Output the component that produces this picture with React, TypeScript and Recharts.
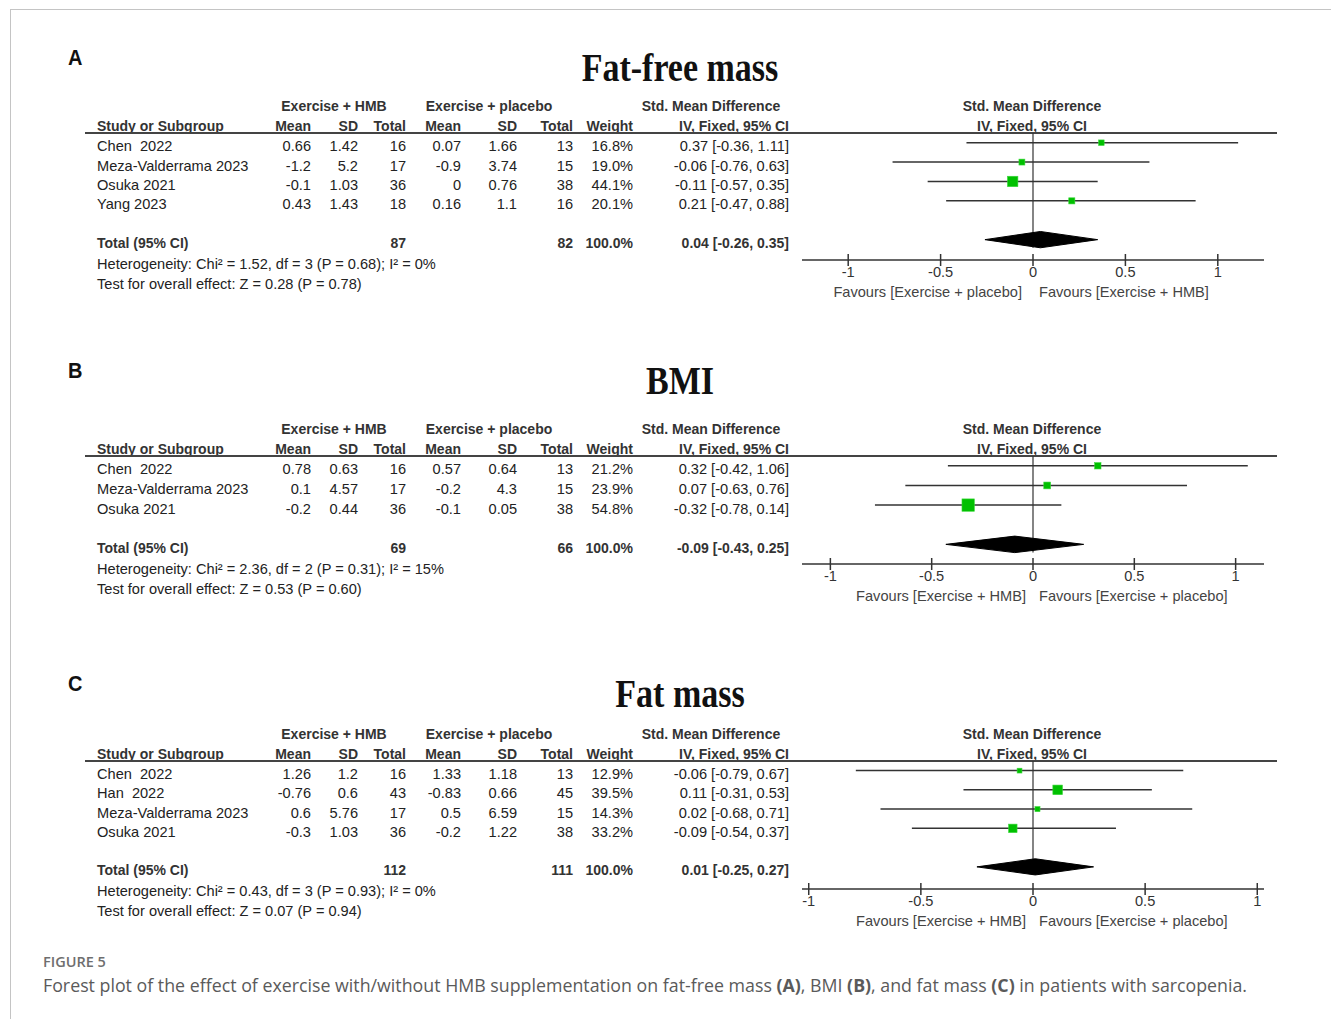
import React from 'react';
import { ScatterChart, Scatter, XAxis, YAxis, ErrorBar, ReferenceLine } from 'recharts';

// ---- A: fat-free mass ----
const studiesA = ['Chen  2022', 'Meza-Valderrama 2023', 'Osuka 2021', 'Yang 2023'];
const hmbMeanA = [0.66, -1.2, -0.1, 0.43];
const hmbSdA = [1.42, 5.2, 1.03, 1.43];
const hmbNA = [16, 17, 36, 18];
const plaMeanA = [0.07, -0.9, 0, 0.16];
const plaSdA = [1.66, 3.74, 0.76, 1.1];
const plaNA = [13, 15, 38, 16];
const weightA = [16.8, 19.0, 44.1, 20.1];
const smdA = [0.37, -0.06, -0.11, 0.21];
const lowA = [-0.36, -0.76, -0.57, -0.47];
const highA = [1.11, 0.63, 0.35, 0.88];
const totalA = [87, 82, 0.04, -0.26, 0.35];
const hetA = 'Heterogeneity: Chi² = 1.52, df = 3 (P = 0.68); I² = 0%';
const testA = 'Test for overall effect: Z = 0.28 (P = 0.78)';

// ---- B: BMI ----
const studiesB = ['Chen  2022', 'Meza-Valderrama 2023', 'Osuka 2021'];
const hmbMeanB = [0.78, 0.1, -0.2];
const hmbSdB = [0.63, 4.57, 0.44];
const hmbNB = [16, 17, 36];
const plaMeanB = [0.57, -0.2, -0.1];
const plaSdB = [0.64, 4.3, 0.05];
const plaNB = [13, 15, 38];
const weightB = [21.2, 23.9, 54.8];
const smdB = [0.32, 0.07, -0.32];
const lowB = [-0.42, -0.63, -0.78];
const highB = [1.06, 0.76, 0.14];
const totalB = [69, 66, -0.09, -0.43, 0.25];
const hetB = 'Heterogeneity: Chi² = 2.36, df = 2 (P = 0.31); I² = 15%';
const testB = 'Test for overall effect: Z = 0.53 (P = 0.60)';

// ---- C: fat mass ----
const studiesC = ['Chen  2022', 'Han  2022', 'Meza-Valderrama 2023', 'Osuka 2021'];
const hmbMeanC = [1.26, -0.76, 0.6, -0.3];
const hmbSdC = [1.2, 0.6, 5.76, 1.03];
const hmbNC = [16, 43, 17, 36];
const plaMeanC = [1.33, -0.83, 0.5, -0.2];
const plaSdC = [1.18, 0.66, 6.59, 1.22];
const plaNC = [13, 45, 15, 38];
const weightC = [12.9, 39.5, 14.3, 33.2];
const smdC = [-0.06, 0.11, 0.02, -0.09];
const lowC = [-0.79, -0.31, -0.68, -0.54];
const highC = [0.67, 0.53, 0.71, 0.37];
const totalC = [112, 111, 0.01, -0.25, 0.27];
const hetC = 'Heterogeneity: Chi² = 0.43, df = 3 (P = 0.93); I² = 0%';
const testC = 'Test for overall effect: Z = 0.07 (P = 0.94)';

const xTicks = [-1, -0.5, 0, 0.5, 1];

const W = 1331;
const H = 1019;
const SANS = '"Liberation Sans", Arial, sans-serif';
const SERIF = '"Liberation Serif", "Times New Roman", serif';
const INK = '#222';

const fmt2 = (v: number) => v.toFixed(2);
const ci = (m: number, l: number, h: number) => `${fmt2(m)} [${fmt2(l)}, ${fmt2(h)}]`;

function T({ x, y, children, anchor = 'start', bold = false, size, color = INK, font = SANS, sy = 1 }: any) {
  const style: React.CSSProperties = {
    position: 'absolute',
    top: y - 10,
    lineHeight: '20px',
    height: 20,
    fontSize: size ?? (bold ? 14 : 14.6),
    fontWeight: bold ? 700 : 400,
    fontFamily: font,
    color,
    whiteSpace: 'pre',
  };
  let tf = '';
  if (anchor === 'start') style.left = x;
  else if (anchor === 'end') style.right = W - x;
  else {
    style.left = x;
    tf = 'translateX(-50%)';
  }
  if (sy !== 1) tf += ` scaleY(${sy})`;
  if (tf) style.transform = tf;
  return <div style={style}>{children}</div>;
}

const Square = (props: any) => {
  const { cx, cy, payload } = props;
  const s = 2.5 + 0.18 * payload.w;
  return <rect x={cx - s / 2} y={cy - s / 2} width={s} height={s} fill="#00c000" stroke="#3ad83a" strokeWidth={0.6} />;
};

const Tick = (props: any) => {
  const { x, y, payload } = props;
  return (
    <g>
      <line x1={x} x2={x} y1={y - 6} y2={y + 6} stroke="#333" strokeWidth={1.5} />
      <text x={x} y={y + 17} textAnchor="middle" fontSize={14.6} fontFamily={SANS} fill="#333">
        {payload.value}
      </text>
    </g>
  );
};

const Empty = () => <g />;

const cols = [311, 358, 406, 461, 517, 573, 633, 789];

function Panel(p: any) {
  const { letter, title, titleY, line, studies, hmbMean, hmbSd, hmbN, plaMean, plaSd, plaN, weight, smd, low, high, total, het, test, xMax, yMax, axisY, favLeft, favRight, favGap } = p;
  const totalRow = studies.length + 1;
  const plotH = axisY - line;
  const unit = plotH / (yMax + 0.5);
  const textY = (i: number) => line + (i + 0.5) * unit + 3.5;
  const points = studies.map((_: string, i: number) => ({ x: smd[i], y: i, w: weight[i], err: [smd[i] - low[i], high[i] - smd[i]] }));
  const dh = 0.42;
  const diamond = [
    { x: total[3], y: totalRow },
    { x: total[2], y: totalRow - dh },
    { x: total[4], y: totalRow },
    { x: total[2], y: totalRow + dh },
    { x: total[3], y: totalRow },
  ];
  const h1 = line - 27;
  const h2 = line - 7;
  const totY = textY(totalRow);
  return (
    <>
      <T x={68} y={titleY - 11} bold size={20} sy={1.12} color="#111">{letter}</T>
      <T x={680} y={titleY} anchor="middle" bold size={34} font={SERIF} sy={1.2} color="#111">{title}</T>

      <T x={334} y={h1} anchor="middle" bold color="#333">Exercise + HMB</T>
      <T x={489} y={h1} anchor="middle" bold color="#333">Exercise + placebo</T>
      <T x={711} y={h1} anchor="middle" bold color="#333">Std. Mean Difference</T>
      <T x={1032} y={h1} anchor="middle" bold color="#333">Std. Mean Difference</T>

      <T x={97} y={h2} bold color="#333">Study or Subgroup</T>
      {['Mean', 'SD', 'Total', 'Mean', 'SD', 'Total', 'Weight', 'IV, Fixed, 95% CI'].map((s, i) => (
        <T key={i} x={cols[i]} y={h2} anchor="end" bold color="#333">{s}</T>
      ))}
      <T x={1032} y={h2} anchor="middle" bold color="#333">IV, Fixed, 95% CI</T>

      <div style={{ position: 'absolute', left: 85, width: 1277 - 85, top: line - 1, height: 2, background: '#444' }} />

      {studies.map((s: string, i: number) => {
        const y = textY(i);
        const vals = [String(hmbMean[i]), String(hmbSd[i]), String(hmbN[i]), String(plaMean[i]), String(plaSd[i]), String(plaN[i]), weight[i].toFixed(1) + '%', ci(smd[i], low[i], high[i])];
        return (
          <React.Fragment key={s}>
            <T x={97} y={y}>{s}</T>
            {vals.map((v, j) => (
              <T key={j} x={cols[j]} y={y} anchor="end">{v}</T>
            ))}
          </React.Fragment>
        );
      })}

      <T x={97} y={totY} bold color="#333">Total (95% CI)</T>
      <T x={cols[2]} y={totY} anchor="end" bold color="#333">{String(total[0])}</T>
      <T x={cols[5]} y={totY} anchor="end" bold color="#333">{String(total[1])}</T>
      <T x={cols[6]} y={totY} anchor="end" bold color="#333">100.0%</T>
      <T x={cols[7]} y={totY} anchor="end" bold color="#333">{ci(total[2], total[3], total[4])}</T>
      <T x={97} y={totY + 21}>{het}</T>
      <T x={97} y={totY + 41}>{test}</T>

      <div style={{ position: 'absolute', left: 802, top: line }}>
        <ScatterChart width={462} height={plotH + 30} margin={{ top: 0, right: 0, bottom: 0, left: 0 }}>
          <XAxis
            type="number"
            dataKey="x"
            domain={[-xMax, xMax]}
            allowDataOverflow
            ticks={xTicks}
            interval={0}
            height={30}
            tickSize={0}
            tickMargin={0}
            tickLine={false}
            axisLine={{ stroke: '#333', strokeWidth: 1.5 }}
            tick={Tick}
          />
          <YAxis type="number" dataKey="y" domain={[-0.5, yMax]} allowDataOverflow reversed hide />
          <ReferenceLine segment={[{ x: 0, y: -0.5 }, { x: 0, y: totalRow + dh }]} stroke="#333" strokeWidth={1.2} ifOverflow="visible" />
          <Scatter data={points} shape={Square} isAnimationActive={false}>
            <ErrorBar dataKey="err" direction="x" width={0} stroke="#333" strokeWidth={1.5} />
          </Scatter>
          <Scatter data={diamond} shape={Empty} line={{ stroke: '#000', fill: '#000', strokeWidth: 1 }} lineType="joint" isAnimationActive={false} />
        </ScatterChart>
      </div>

      <T x={1033 - favGap} y={axisY + 32} anchor="end" color="#444">{favLeft}</T>
      <T x={1039} y={axisY + 32} color="#444">{favRight}</T>
    </>
  );
}

export default function App() {
  return (
    <div style={{ position: 'absolute', left: 0, top: 0, width: W, height: H, background: '#fff', fontFamily: SANS, overflow: 'hidden' }}>
      <div style={{ position: 'absolute', left: 10, top: 9, width: W - 10, height: 1, background: '#c4c4c4' }} />
      <div style={{ position: 'absolute', left: 10, top: 9, width: 1, height: H - 9, background: '#c4c4c4' }} />

      <Panel
        letter="A" title="Fat-free mass" titleY={68} line={133} axisY={260} xMax={1.25} yMax={6.05} favGap={11}
        studies={studiesA} hmbMean={hmbMeanA} hmbSd={hmbSdA} hmbN={hmbNA} plaMean={plaMeanA} plaSd={plaSdA} plaN={plaNA}
        weight={weightA} smd={smdA} low={lowA} high={highA} total={totalA} het={hetA} test={testA}
        favLeft="Favours [Exercise + placebo]" favRight="Favours [Exercise + HMB]"
      />
      <Panel
        letter="B" title="BMI" titleY={381} line={456} axisY={564} xMax={1.14} yMax={5.0} favGap={7}
        studies={studiesB} hmbMean={hmbMeanB} hmbSd={hmbSdB} hmbN={hmbNB} plaMean={plaMeanB} plaSd={plaSdB} plaN={plaNB}
        weight={weightB} smd={smdB} low={lowB} high={highB} total={totalB} het={hetB} test={testB}
        favLeft="Favours [Exercise + HMB]" favRight="Favours [Exercise + placebo]"
      />
      <Panel
        letter="C" title="Fat mass" titleY={694} line={761} axisY={889} xMax={1.03} yMax={6.15} favGap={7}
        studies={studiesC} hmbMean={hmbMeanC} hmbSd={hmbSdC} hmbN={hmbNC} plaMean={plaMeanC} plaSd={plaSdC} plaN={plaNC}
        weight={weightC} smd={smdC} low={lowC} high={highC} total={totalC} het={hetC} test={testC}
        favLeft="Favours [Exercise + HMB]" favRight="Favours [Exercise + placebo]"
      />

      <div style={{ position: 'absolute', left: 43, top: 953, fontFamily: '"Open Sans", "Noto Sans", sans-serif', fontSize: 14.5, fontWeight: 600, color: '#6e6e6e', lineHeight: '18px' }}>
        FIGURE 5
      </div>
      <div style={{ position: 'absolute', left: 43, top: 973, fontFamily: '"Open Sans", "Noto Sans", sans-serif', fontSize: 17.8, color: '#5a5a5a', lineHeight: '24px', whiteSpace: 'nowrap' }}>
        Forest plot of the effect of exercise with/without HMB supplementation on fat-free mass <b>(A)</b>, BMI <b>(B)</b>, and fat mass <b>(C)</b> in patients with sarcopenia.
      </div>
    </div>
  );
}
